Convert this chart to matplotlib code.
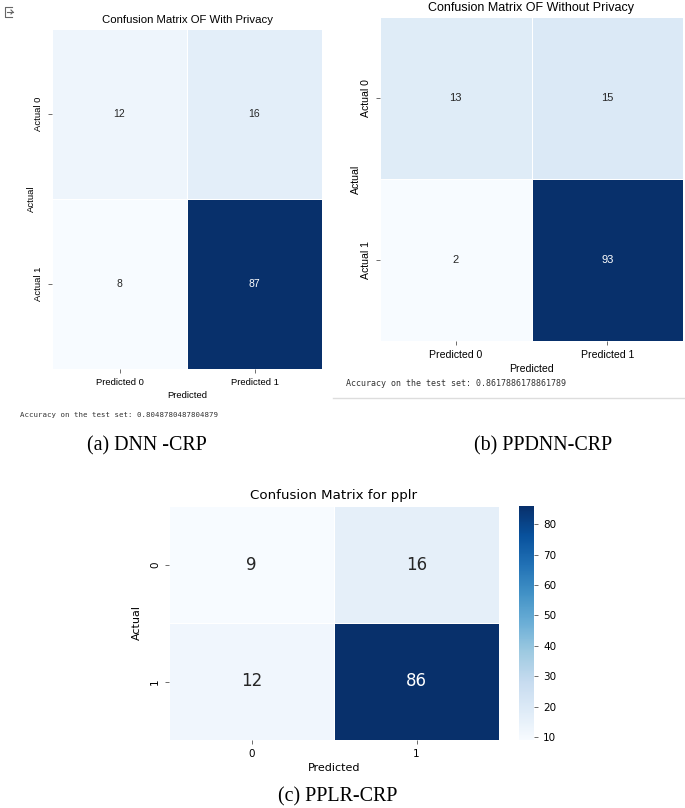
import numpy as np
import matplotlib
matplotlib.use("Agg")
import matplotlib.pyplot as plt
from matplotlib.lines import Line2D
import seaborn as sns

# confusion matrices
cm_dnn = [[12, 16], [8, 87]]
cm_ppdnn = [[13, 15], [2, 93]]
cm_pplr = [[9, 16], [12, 86]]

pred_labels = ["Predicted 0", "Predicted 1"]
actual_labels = ["Actual 0", "Actual 1"]
plain_labels = ["0", "1"]

acc_dnn = "0.8048780487804879"
acc_ppdnn = "0.8617886178861789"

captions = ["(a) DNN -CRP", "(b) PPDNN-CRP", "(c) PPLR-CRP"]

W, H = 685, 808
narrow = "Liberation Sans"

fig = plt.figure(figsize=(W / 100, H / 100), dpi=100)
fig.patch.set_facecolor("white")


def rect(x0, y0, x1, y1):
    # pixel box (top-left origin) -> figure fraction
    return [x0 / W, 1 - y1 / H, (x1 - x0) / W, (y1 - y0) / H]


def px(x, y):
    return x / W, 1 - y / H


def notebook_heatmap(box, cm, title, fs):
    ax = fig.add_axes(rect(*box))
    sns.heatmap(np.array(cm), annot=True, fmt="d", cmap="Blues", cbar=False,
                xticklabels=pred_labels, yticklabels=actual_labels,
                linewidths=0.5, linecolor="white",
                annot_kws={"fontsize": fs["annot"], "family": narrow}, ax=ax)
    ax.set_title(title, fontsize=fs["title"], family=narrow, pad=4)
    ax.set_xlabel("Predicted", fontsize=fs["tick"], family=narrow, labelpad=3)
    ax.set_ylabel("Actual", fontsize=fs["tick"], family=narrow)
    ax.yaxis.set_label_coords(fs["ylab_x"], 0.5)
    ax.tick_params(length=3, width=0.6, color="#555555", labelsize=fs["tick"])
    for t in ax.get_xticklabels():
        t.set_family(narrow)
        t.set_rotation(0)
    for t in ax.get_yticklabels():
        t.set_family(narrow)
        t.set_rotation(90)
        t.set_va("center")
    return ax


notebook_heatmap((52, 29, 322, 369), cm_dnn, "Confusion Matrix OF With Privacy",
                 {"annot": 7.5, "title": 8.2, "tick": 6.8, "ylab_x": -0.058})
notebook_heatmap((380, 17, 683, 341), cm_ppdnn, "Confusion Matrix OF Without Privacy",
                 {"annot": 8, "title": 9, "tick": 7.6, "ylab_x": -0.062})

fig.text(*px(20, 415), "Accuracy on the test set: " + acc_dnn, family="DejaVu Sans Mono",
         fontsize=5.3, color="#333333", va="center")
fig.text(*px(346, 384), "Accuracy on the test set: " + acc_ppdnn, family="DejaVu Sans Mono",
         fontsize=6, color="#333333", va="center")
fig.add_artist(Line2D([333 / W, 1], [1 - 398 / H] * 2, color="#dddddd", lw=1))

# small output icon at the top-left corner
ix = [p / W for p in (12, 5, 5, 12)]
iy = [1 - p / H for p in (7, 7, 17, 17)]
fig.add_artist(Line2D(ix, iy, color="#666666", lw=0.8))
fig.add_artist(Line2D([7 / W, 13 / W], [1 - 12 / H] * 2, color="#666666", lw=0.8))
fig.add_artist(Line2D([11 / W, 13 / W, 11 / W], [1 - 10 / H, 1 - 12 / H, 1 - 14 / H],
                      color="#666666", lw=0.8))

# third panel: seaborn heatmap with colorbar
ax_c = fig.add_axes(rect(169, 506, 499, 740))
cax = fig.add_axes(rect(519, 506, 534, 740))
sns.heatmap(np.array(cm_pplr), annot=True, fmt="d", cmap="Blues", cbar=True, cbar_ax=cax,
            xticklabels=plain_labels, yticklabels=plain_labels,
            linewidths=0.5, linecolor="white", annot_kws={"fontsize": 12}, ax=ax_c)
ax_c.set_title("Confusion Matrix for pplr", fontsize=9.6, pad=5)
ax_c.set_xlabel("Predicted", fontsize=8, labelpad=3)
ax_c.set_ylabel("Actual", fontsize=8, labelpad=6)
ax_c.tick_params(length=3, width=0.6, color="#555555", labelsize=7.5)
for t in ax_c.get_yticklabels():
    t.set_rotation(90)
    t.set_va("center")
cax.tick_params(length=3, width=0.6, color="#555555", labelsize=7.5)
cax.set_yticks([10, 20, 30, 40, 50, 60, 70, 80])
for s in cax.spines.values():
    s.set_visible(False)

for (cx, cy), cap in zip([(147, 446), (543, 446), (338, 797)], captions):
    fig.text(*px(cx, cy), cap, family="Liberation Serif", fontsize=14.4, ha="center", va="center")

fig.savefig("out.png", dpi=100, facecolor="white")
